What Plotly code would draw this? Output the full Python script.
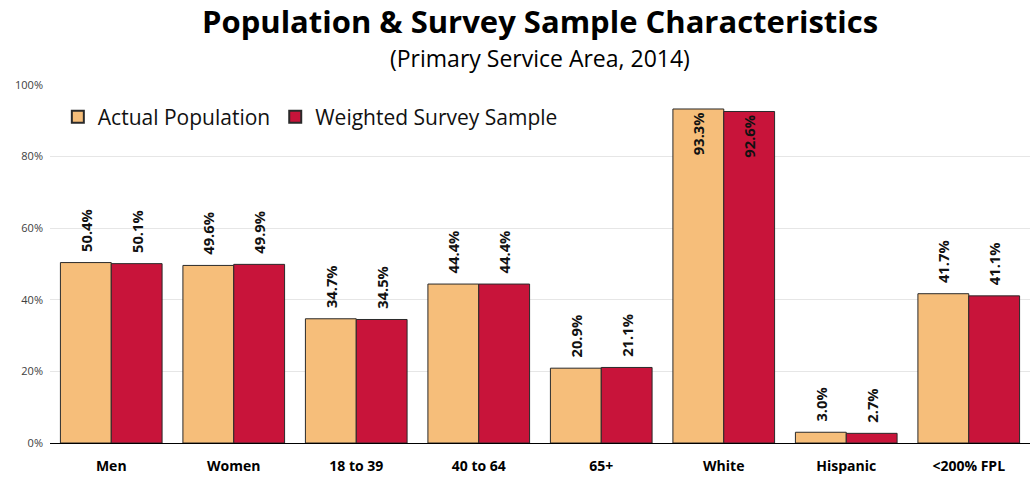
import plotly.graph_objects as go

categories = ["Men", "Women", "18 to 39", "40 to 64", "65+", "White", "Hispanic", "<200% FPL"]
actual_population = [50.4, 49.6, 34.7, 44.4, 20.9, 93.3, 3.0, 41.7]
weighted_sample = [50.1, 49.9, 34.5, 44.4, 21.1, 92.6, 2.7, 41.1]
y_ticks = [0, 20, 40, 60, 80, 100]
y_tick_labels = ["0%", "20%", "40%", "60%", "80%", "100%"]

FONT = "Open Sans"

def positions(vals):
    return ["inside" if v > 85 else "outside" for v in vals]

def labels(vals):
    return [f"{v:.1f}%" if v > 85 else f"\u00a0\u00a0{v:.1f}%" for v in vals]

fig = go.Figure()
for name, vals, color in [
    ("Actual Population", actual_population, "#F6BE7A"),
    ("Weighted Survey Sample", weighted_sample, "#C8143A"),
]:
    fig.add_trace(go.Bar(
        name=name,
        x=categories,
        y=vals,
        marker=dict(color=color, line=dict(color="#2a2a2a", width=1)),
        text=labels(vals),
        textposition=positions(vals),
        insidetextanchor="end",
        textangle=-90,
        textfont=dict(family=FONT, size=15, color="#111111", weight="bold"),
        cliponaxis=False,
    ))

fig.update_layout(
    width=1033, height=478,
    margin=dict(l=50, r=3, t=85, b=35),
    paper_bgcolor="white", plot_bgcolor="white",
    barmode="group", bargap=0.17, bargroupgap=0,
    font=dict(family=FONT),
    annotations=[
        dict(text="<b>Population & Survey Sample Characteristics</b>",
             xref="paper", yref="paper", x=0.5, y=(443 - 21) / 358,
             xanchor="center", yanchor="middle", showarrow=False,
             font=dict(family=FONT, size=31, color="#000000")),
        dict(text="(Primary Service Area, 2014)",
             xref="paper", yref="paper", x=0.5, y=(443 - 58) / 358,
             xanchor="center", yanchor="middle", showarrow=False,
             font=dict(family=FONT, size=23, color="#000000")),
    ],
    legend=dict(
        orientation="h", x=0.008, xanchor="left", y=(443 - 117) / 358, yanchor="middle",
        font=dict(family=FONT, size=21, color="#111111"),
        bgcolor="rgba(0,0,0,0)", itemsizing="constant", traceorder="normal",
    ),
    uniformtext=dict(minsize=8, mode="show"),
)
fig.update_yaxes(
    range=[0, 100], tickvals=y_ticks, ticktext=y_tick_labels,
    showgrid=True, gridcolor="#e6e6e6", gridwidth=1,
    zeroline=False, showline=False,
    tickfont=dict(family=FONT, size=11, color="#404040"),
    ticks="", ticklabelstandoff=6,
)
fig.update_xaxes(
    showline=True, linecolor="#000000", linewidth=1,
    tickfont=dict(family=FONT, size=14, color="#000000", weight="bold"),
    ticks="", ticklabelstandoff=10,
)
fig.write_html("out.html", config={"displayModeBar": False},
               post_script="document.body.style.margin='0';")
